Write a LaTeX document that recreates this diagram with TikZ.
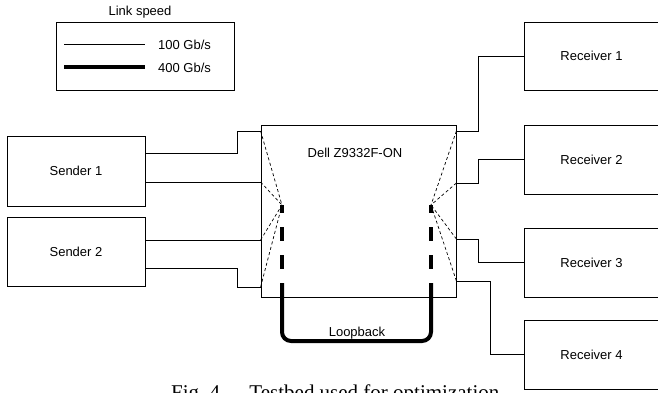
\documentclass[tikz,border=0pt]{standalone}
\usepackage{fontspec}
\setmainfont{Liberation Sans}
\newfontfamily\capfont{Liberation Serif}
\begin{document}
\begin{tikzpicture}[x=1pt,y=-1pt,
  box/.style={draw, rectangle, line width=0.8pt, inner sep=0pt, font=\fontsize{13}{15}\selectfont},
  lbl/.style={inner sep=0pt, font=\fontsize{13}{15}\selectfont},
  link/.style={line width=0.8pt},
  fast/.style={line width=4pt},
  fastdash/.style={line width=4pt, dash pattern=on 14pt off 14pt, dash phase=6pt},
  inner/.style={line width=0.7pt, dash pattern=on 3pt off 2.5pt}]
\useasboundingbox (0,0) rectangle (658,392);
\clip (0,0) rectangle (658,392);
% legend
\node[box, minimum width=178pt, minimum height=68pt] (legend) at (145,56) {};
\node[lbl, anchor=base] (legtitle) at (140,15.5) {Link speed};
\draw[link] (64,44) -- (145,44);
\draw[fast] (64,67) -- (145,67);
\node[lbl, anchor=base west] (l100) at (158,49) {100 Gb/s};
\node[lbl, anchor=base west] (l400) at (158,72) {400 Gb/s};
% senders
\node[box, minimum width=138pt, minimum height=70pt] (s1) at (76,171) {Sender 1};
\node[box, minimum width=138pt, minimum height=69pt] (s2) at (76,251.5) {Sender 2};
% switch
\node[box, minimum width=195pt, minimum height=172pt] (sw) at (358.5,211) {};
\node[lbl, anchor=base] (swtxt) at (355,157) {Dell Z9332F-ON};
% receivers
\node[box, minimum width=135pt, minimum height=68pt] (r1) at (591.5,56) {Receiver 1};
\node[box, minimum width=135pt, minimum height=69pt] (r2) at (591.5,159.5) {Receiver 2};
\node[box, minimum width=135pt, minimum height=69pt] (r3) at (591.5,262.5) {Receiver 3};
\node[box, minimum width=135pt, minimum height=69pt] (r4) at (591.5,354.5) {Receiver 4};
% ports
\coordinate (swl1) at (sw.west |- 0,131);
\coordinate (swl2) at (sw.west |- 0,182);
\coordinate (swl3) at (sw.west |- 0,240);
\coordinate (swl4) at (sw.west |- 0,287);
\coordinate (swr1) at (sw.east |- 0,131);
\coordinate (swr2) at (sw.east |- 0,183);
\coordinate (swr3) at (sw.east |- 0,239);
\coordinate (swr4) at (sw.east |- 0,281);
\coordinate (cl) at (282,205);
\coordinate (cr) at (431,205);
\coordinate (cl2) at (282,283);
\coordinate (cr2) at (431,283);
% sender links
\draw[link] ([yshift=18pt]s1.east) -- ++(92,0) |- (swl1);
\draw[link] (swl2 -| s1.east) -- (swl2);
\draw[link] (swl3 -| s2.east) -- (swl3);
\draw[link] ([yshift=-16.5pt]s2.east) -- ++(92,0) |- (swl4);
% receiver links
\draw[link] (swr1) -- ++(22,0) |- (r1.west);
\draw[link] (swr2) -- ++(22,0) |- (r2.west);
\draw[link] (swr3) -- ++(22,0) |- (r3.west);
\draw[link] (swr4) -- ++(34,0) |- (r4.west);
% internal mapping
\foreach \p in {swl1,swl2,swl3,swl4} \draw[inner] (\p) -- (cl);
\foreach \p in {swr1,swr2,swr3,swr4} \draw[inner] (\p) -- (cr);
\draw[fastdash] (cl) -- (cl2);
\draw[fastdash] (cr) -- (cr2);
\draw[fast, rounded corners=9pt] (cl2) -- (282,341) -- (431,341) -- (cr2);
\node[lbl, anchor=base] (loop) at (357,336) {Loopback};
% caption
\node[inner sep=0pt, anchor=base west, font=\capfont\fontsize{21}{24}\selectfont] (cap) at (171,399) {Fig.~4.\hspace{24pt}Testbed used for optimization};
\end{tikzpicture}
\end{document}
